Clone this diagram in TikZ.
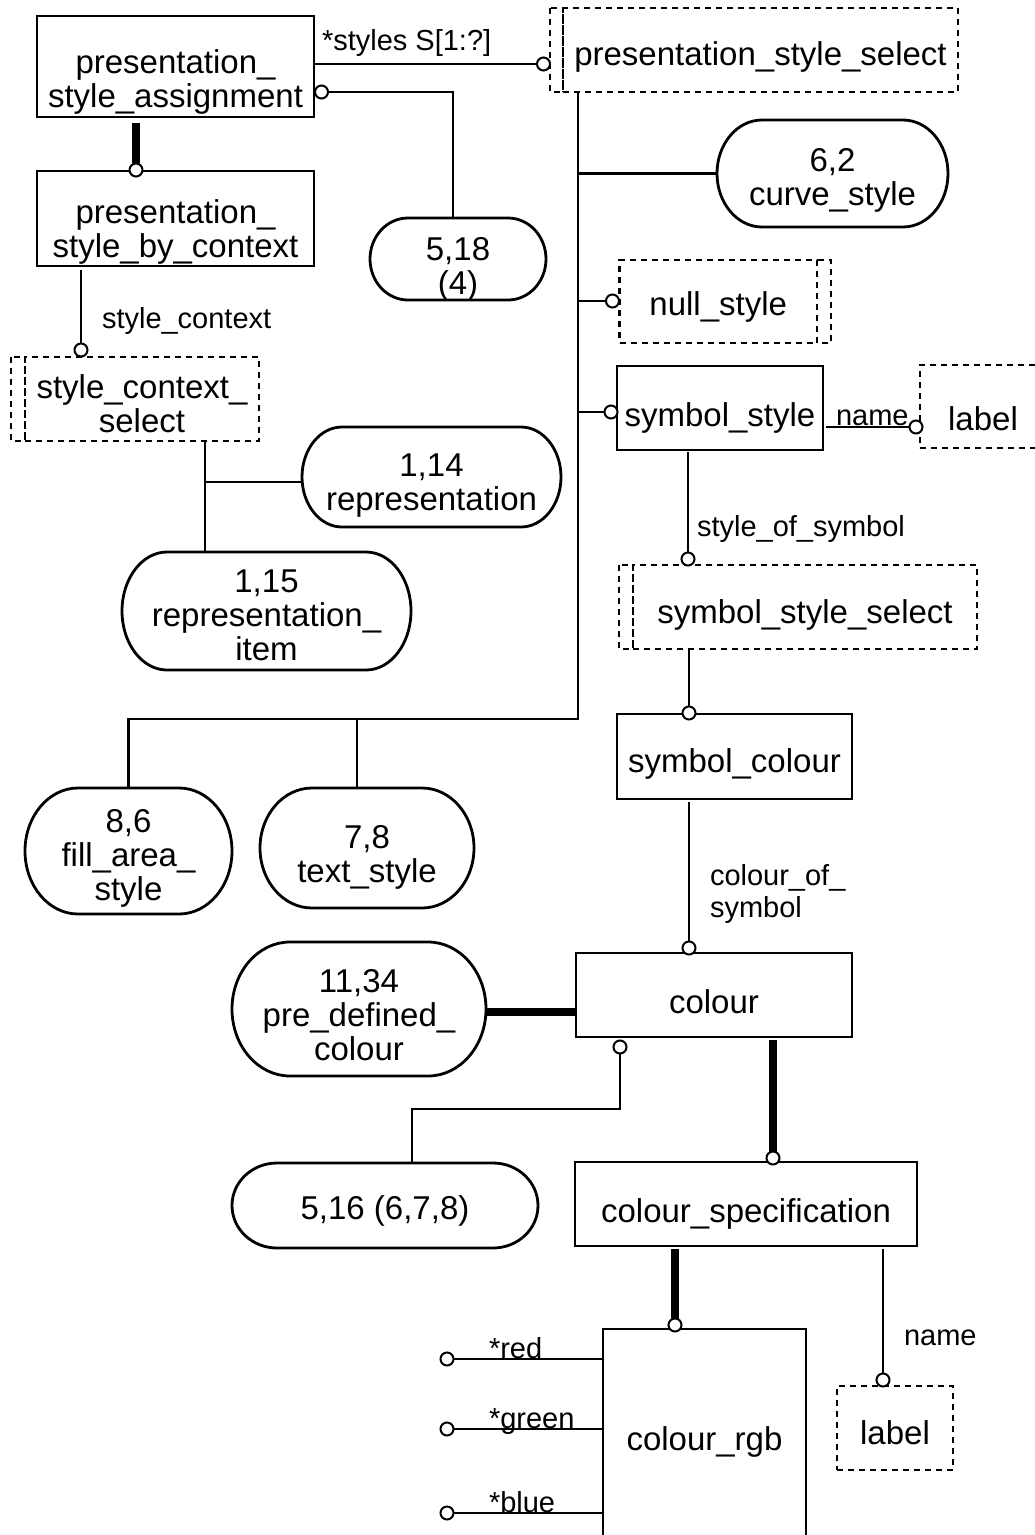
\documentclass[tikz,border=0pt]{standalone}
\usepackage{fontspec}
\setmainfont{Liberation Sans}
\usetikzlibrary{calc}
\newcommand\bigtxt{\fontsize{33pt}{34pt}\selectfont}
\newcommand\smalltxt{\fontsize{29pt}{32pt}\selectfont}
% centred block of lines, lowered by #1 pt without changing its size
\newcommand\lowtxt[2][9]{\raisebox{-#1pt}[\height][\depth]{\begin{tabular}{@{}c@{}}#2\end{tabular}}}
\tikzset{
  entity/.style={draw, line width=2.8pt, rectangle, inner sep=0pt, outer sep=0pt, font=\bigtxt},
  dsh/.style={dash pattern=on 6pt off 5pt, line width=2.6pt},
  selbox/.style={entity, dsh},
  stadbox/.style={rectangle, inner sep=0pt, outer sep=0pt, font=\bigtxt},
  rel/.style={line width=2.8pt},
  thickrel/.style={line width=7.5pt},
  ring/.style={circle, draw, fill=white, line width=2pt, minimum size=13pt, inner sep=0pt, outer sep=0pt},
  lbl/.style={font=\smalltxt, inner sep=0pt, outer sep=0pt},
}
% stadium: name, cx, cy, width, height, end radius, text drop, text
\newcommand\stad[8]{%
  \node[stadbox, minimum width=#4pt, minimum height=#5pt] (#1) at (#2,#3) {\lowtxt[#7]{#8}};
  \draw[rel] ([xshift=#6pt]#1.north west) -- ([xshift=-#6pt]#1.north east)
    arc[start angle=90, end angle=-90, x radius=#6pt, y radius=#5pt/2]
    -- ([xshift=#6pt]#1.south west)
    arc[start angle=270, end angle=90, x radius=#6pt, y radius=#5pt/2] -- cycle;}
\begin{document}
\begin{tikzpicture}[x=1pt, y=-1pt]
\useasboundingbox (0,0) rectangle (1035,1535);
\fill[white] (0,0) rectangle (1035,1535);
\clip (0,0) rectangle (1035,1535);

% ---- entities
\node[entity, minimum width=277pt, minimum height=101pt] (psa) at (175.5,66.5) {\lowtxt[16.7]{presentation\_\\style\_assignment}};
\node[entity, minimum width=277pt, minimum height=95pt] (psbc) at (175.5,218.5) {\lowtxt[14.7]{presentation\_\\style\_by\_context}};
\node[entity, minimum width=206pt, minimum height=84pt] (ss) at (720,408) {\lowtxt[12]{symbol\_style}};
\node[entity, minimum width=235pt, minimum height=85pt] (sc) at (734.5,756.5) {\lowtxt[8.7]{symbol\_colour}};
\node[entity, minimum width=276pt, minimum height=84pt] (col) at (714,995) {\lowtxt[11.2]{colour}};
\node[entity, minimum width=342pt, minimum height=84pt] (cs) at (746,1204) {\lowtxt[11.2]{colour\_specification}};
\node[entity, minimum width=203pt, minimum height=216pt] (rgb) at (704.5,1437) {\lowtxt[6.2]{colour\_rgb}};

% ---- select and defined types
\node[selbox, minimum width=395pt, minimum height=84pt] (pss) at (760.5,50) {\lowtxt[8.2]{presentation\_style\_select}};
\draw[dsh] ([xshift=-13pt]pss.north west) rectangle (pss.south west);
\node[selbox, minimum width=234pt, minimum height=84pt] (scs) at (142,399) {\lowtxt[9.2]{style\_context\_\\select}};
\draw[dsh] ([xshift=-14pt]scs.north west) rectangle (scs.south west);
\node[selbox, minimum width=344pt, minimum height=84pt] (sss) at (805,607) {\lowtxt[9.2]{symbol\_style\_select}};
\draw[dsh] ([xshift=-14pt]sss.north west) rectangle (sss.south west);
\node[selbox, minimum width=197.5pt, minimum height=83pt] (ns) at (718.25,301.5) {\lowtxt[6.7]{null\_style}};
\draw[dsh] (ns.north east) rectangle ([xshift=14pt]ns.south east);
\node[selbox, minimum width=126pt, minimum height=83pt] (lab1) at (983,406.5) {\lowtxt[16.7]{label}};
\node[selbox, minimum width=116pt, minimum height=84pt] (lab2) at (895,1428) {\lowtxt[10]{label}};

% ---- references to other pages
\stad{s518}{458}{259}{176}{82}{38}{12}{5,18\\(4)}
\stad{cst}{832.5}{173.5}{231}{107}{45}{8.5}{6,2\\curve\_style}
\stad{rep}{431.5}{477}{259}{100}{40}{9.6}{1,14\\representation}
\stad{repi}{266.5}{611}{289}{118}{45}{9}{1,15\\representation\_\\item}
\stad{fas}{128.5}{851}{207}{126}{53}{9}{8,6\\fill\_area\_\\style}
\stad{tst}{367}{848}{214}{120}{52}{10.6}{7,8\\text\_style}
\stad{pdc}{359}{1009}{254}{134}{58}{11}{11,34\\pre\_defined\_\\colour}
\stad{s516}{385}{1205.5}{306}{85}{45}{7.5}{5,16 (6,7,8)}

% ---- relationship ends
\node[ring] (r1) at (543.5,64) {};
\node[ring] (r2) at (321.5,92) {};
\node[ring] (r3) at (136,170) {};
\node[ring] (r4) at (81,350) {};
\node[ring] (r5) at (612.5,301) {};
\node[ring] (r6) at (611,412) {};
\node[ring] (r7) at (916,427) {};
\node[ring] (r8) at (688,559) {};
\node[ring] (r9) at (689,713) {};
\node[ring] (r10) at (689,948) {};
\node[ring] (r11) at (620,1047) {};
\node[ring] (r12) at (773,1158) {};
\node[ring] (r13) at (675,1325) {};
\node[ring] (r14) at (883,1380) {};
\node[ring] (r15) at (447,1359) {};
\node[ring] (r16) at (447,1429) {};
\node[ring] (r17) at (447,1513) {};

% ---- junctions
\coordinate (j1) at (205,482);
\coordinate (tb) at (578,719);
\coordinate (tt) at (357,719);
\coordinate (j3) at (412,1109);

% ---- connectors
\draw[rel] (psa.east |- r1) -- (r1);
\node[lbl, anchor=base west] (l1) at (322,50) {*styles S[1:?]};
\draw[rel] (r2) -| ([xshift=-5pt]s518.north);
\draw[thickrel] ([yshift=-6pt]psa.south -| r3) -- (r3);
\draw[rel] ([yshift=-4pt]psbc.south -| r4) -- (r4);
\node[lbl, anchor=base west] (l2) at (102,328) {style\_context};
\draw[rel] (scs.south -| j1) -- (j1) -- (j1 |- repi.north);
\draw[rel] (j1) -- (j1 -| rep.west);

\draw[rel] (pss.south -| tb) -- (tb) -| (fas.north);
\draw[rel] (tt) -- (tt |- tst.north);
\draw[rel] (tb |- cst.west) -- (cst.west);
\draw[rel] (tb |- r5) -- (r5);
\draw[rel] (tb |- r6) -- (r6);

\draw[rel] ([xshift=3pt]ss.east |- r7) -- (r7);
\node[lbl, anchor=base west] (l3) at (836,425) {name};
\draw[rel] ([yshift=-2pt]ss.south -| r8) -- (r8);
\node[lbl, anchor=base west] (l4) at (697,536) {style\_of\_symbol};
\draw[rel] (sss.south -| r9) -- (r9);
\draw[rel] ([yshift=-3pt]sc.south -| r10) -- (r10);
\node[lbl, anchor=north west] (l5) at (710,862.6) {\begin{tabular}{@{}l@{}}colour\_of\_\\symbol\end{tabular}};

\draw[thickrel] ([yshift=-3pt]pdc.east) -- ([yshift=-3pt]pdc.east -| col.west);
\draw[rel] (r11) |- (j3) -- (j3 |- s516.north);
\draw[thickrel] ([yshift=-3pt]col.south -| r12) -- (r12);
\draw[thickrel] ([yshift=-3pt]cs.south -| r13) -- (r13);
\draw[rel] ([yshift=-3pt]cs.south -| r14) -- (r14);
\node[lbl, anchor=base west] (l6) at (904,1345) {name};

\draw[rel] (r15) -- (r15 -| rgb.west);
\draw[rel] (r16) -- (r16 -| rgb.west);
\draw[rel] (r17) -- (r17 -| rgb.west);
\node[lbl, anchor=base west] (l7) at (489,1358) {*red};
\node[lbl, anchor=base west] (l8) at (489,1428) {*green};
\node[lbl, anchor=base west] (l9) at (489,1512) {*blue};
\end{tikzpicture}
\end{document}
